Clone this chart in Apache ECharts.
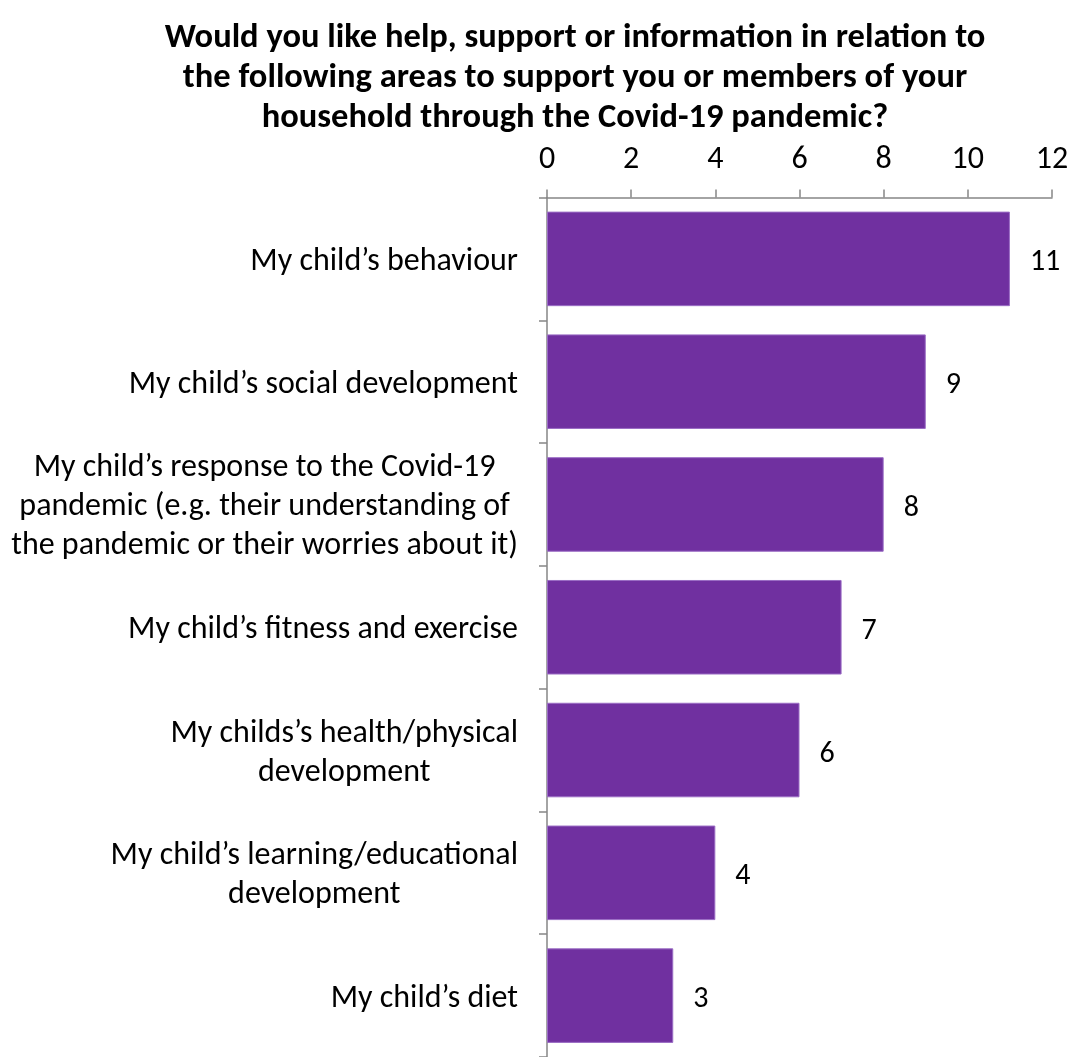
<!DOCTYPE html>
<html>
<head>
<meta charset="utf-8">
<script src="https://cdn.jsdelivr.net/npm/echarts@6/dist/echarts.min.js"></script>
<style>
  html, body { margin: 0; padding: 0; background: #ffffff; }
  #chart { width: 1074px; height: 1057px; }
</style>
</head>
<body>
<div id="chart"></div>
<script>
// Areas where households would like help, support or information
const categories = [
  "My child\u2019s behaviour",
  "My child\u2019s social development",
  "My child\u2019s response to the Covid-19\npandemic (e.g. their understanding of\nthe pandemic or their worries about it)",
  "My child\u2019s fitness and exercise",
  "My childs\u2019s health/physical\ndevelopment",
  "My child\u2019s learning/educational\ndevelopment",
  "My child\u2019s diet"
];
const responses = [11, 9, 8, 7, 6, 4, 3];
const axisMin = 0;
const axisMax = 12;
const axisStep = 2;

const FONT = "Carlito, Lato, sans-serif";
const axisGrey = "#868686";

const chart = echarts.init(document.getElementById("chart"), null, { renderer: "canvas" });

chart.setOption({
  backgroundColor: "#ffffff",
  animation: false,
  title: {
    text: "Would you like help, support or information in relation to\nthe following areas to support you or members of your\nhousehold through the Covid-19 pandemic?",
    left: 570,
    top: 13,
    textAlign: "center",
    textStyle: {
      fontFamily: FONT,
      fontWeight: "bold",
      fontSize: 34.5,
      lineHeight: 40,
      color: "#000000"
    }
  },
  grid: {
    left: 547,
    top: 197.5,
    width: 505,
    height: 865,
    containLabel: false
  },
  xAxis: {
    type: "value",
    position: "top",
    min: axisMin,
    max: axisMax,
    interval: axisStep,
    splitLine: { show: false },
    axisLine: { show: true, lineStyle: { color: axisGrey, width: 1.5 } },
    axisTick: { show: true, length: 8, lineStyle: { color: axisGrey, width: 1.5 } },
    axisLabel: {
      margin: 22,
      fontFamily: FONT,
      fontSize: 32,
      color: "#000000"
    }
  },
  yAxis: {
    type: "category",
    inverse: true,
    data: categories,
    axisLine: { show: true, lineStyle: { color: axisGrey, width: 1.5 } },
    axisTick: { show: true, length: 8, lineStyle: { color: axisGrey, width: 1.5 } },
    axisLabel: {
      margin: 29,
      padding: [6, 0, 0, 0],
      fontFamily: FONT,
      fontSize: 32,
      lineHeight: 39,
      align: "right",
      color: "#000000",
      // each line of a wrapped label is centred within its block
      formatter: function (value) {
        return value.split("\n").map(function (line) { return "{c|" + line + "}"; }).join("\n");
      },
      rich: {
        c: { align: "center", fontFamily: FONT, fontSize: 32, lineHeight: 39, color: "#000000" }
      }
    }
  },
  series: [{
    type: "bar",
    data: responses,
    barCategoryGap: "23%",
    itemStyle: {
      color: "#7030A0",
      borderColor: "#9a6cc4",
      borderWidth: 1
    },
    label: {
      show: true,
      position: "right",
      distance: 20,
      offset: [0, 4],
      fontFamily: FONT,
      fontSize: 30,
      color: "#000000"
    }
  }]
});
</script>
</body>
</html>
